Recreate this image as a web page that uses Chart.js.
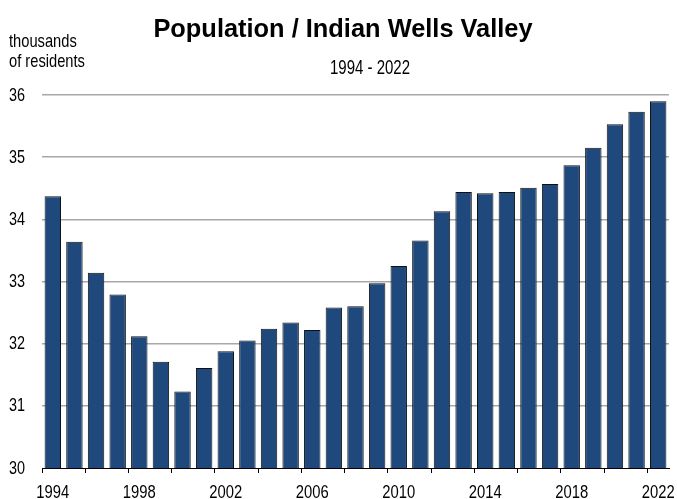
<!DOCTYPE html>
<html>
<head>
<meta charset="utf-8">
<script src="https://cdn.jsdelivr.net/npm/chart.js@4/dist/chart.umd.min.js"></script>
<style>
  html, body { margin: 0; padding: 0; background: #fff; }
  #wrap { width: 677px; height: 499px; position: relative; }
</style>
</head>
<body>
<div id="wrap"><canvas id="grafico"></canvas></div>
<script>
const years = ["1994","1995","1996","1997","1998","1999","2000","2001","2002","2003",
  "2004","2005","2006","2007","2008","2009","2010","2011","2012","2013",
  "2014","2015","2016","2017","2018","2019","2020","2021","2022"];

const population = [34.37, 33.64, 33.14, 32.79, 32.12, 31.71, 31.23, 31.61, 31.88, 32.05,
  32.24, 32.34, 32.22, 32.58, 32.60, 32.97, 33.25, 33.66, 34.13, 34.44,
  34.42, 34.44, 34.51, 34.57, 34.87, 35.15, 35.53, 35.73, 35.90];

const yTicks = [30, 31, 32, 33, 34, 35, 36];

const titulo = "Population / Indian Wells Valley";
const subtitulo = "1994 - 2022";
const unidad = ["thousands", "of residents"];

const fuente = "'Liberation Sans', Arial, sans-serif";

// texto estrecho (la fuente original es tipo Arial Narrow)
function texto(ctx, s, x, y, align, sx) {
  ctx.save();
  ctx.translate(x, y);
  ctx.scale(sx, 1);
  ctx.textAlign = align;
  ctx.fillText(s, 0, 0);
  ctx.restore();
}

const rotulos = {
  id: "rotulos",
  afterDraw(chart) {
    const ctx = chart.ctx;
    const xs = chart.scales.x;
    const ys = chart.scales.y;
    ctx.save();
    ctx.fillStyle = "#000";

    ctx.textBaseline = "alphabetic";
    ctx.font = "bold 26px " + fuente;
    texto(ctx, titulo, 343, 37, "center", 0.977);
    ctx.font = "19.5px " + fuente;
    texto(ctx, subtitulo, 370, 74, "center", 0.77);
    ctx.font = "17.7px " + fuente;
    texto(ctx, unidad[0], 9, 47, "left", 0.83);
    texto(ctx, unidad[1], 9, 67, "left", 0.83);

    // etiquetas eje y
    ctx.font = "18.5px " + fuente;
    ctx.textBaseline = "middle";
    yTicks.forEach(v => {
      texto(ctx, String(v), 9, ys.getPixelForValue(v) + 0.5, "left", 0.78);
    });

    // etiquetas eje x
    ctx.textBaseline = "alphabetic";
    years.forEach((y, i) => {
      if (i % 4 === 0) texto(ctx, y, xs.getPixelForValue(i), 498, "center", 0.8);
    });
    ctx.restore();
  }
};

new Chart(document.getElementById("grafico"), {
  type: "bar",
  data: {
    labels: years,
    datasets: [{
      label: "Population",
      data: population,
      backgroundColor: "#1f497d",
      borderColor: "#111",
      borderWidth: 1,
      borderSkipped: "bottom",
      categoryPercentage: 1,
      barPercentage: 0.76
    }]
  },
  options: {
    responsive: true,
    maintainAspectRatio: false,
    animation: false,
    layout: { padding: { left: 8, right: 8, top: 95, bottom: 0 } },
    plugins: {
      legend: { display: false },
      tooltip: { enabled: false }
    },
    scales: {
      x: {
        offset: true,
        grid: {
          offset: true,
          drawOnChartArea: false,
          drawTicks: true,
          tickLength: 5,
          color: c => (c.index !== undefined && c.index % 2 === 0) ? "#000" : "rgba(0,0,0,0)"
        },
        border: { display: true, color: "#000", width: 1 },
        ticks: { display: false, autoSkip: false },
        afterFit: s => { s.height = 31; }
      },
      y: {
        min: 30,
        max: 36,
        afterBuildTicks: s => { s.ticks = yTicks.map(v => ({ value: v })); },
        grid: {
          drawTicks: false,
          color: c => c.tick && c.tick.value === 30 ? "rgba(0,0,0,0)" : "#a8a8a8",
          lineWidth: 1.5
        },
        border: { display: false },
        ticks: { display: false },
        afterFit: s => { s.width = 34; }
      }
    }
  },
  plugins: [rotulos]
});
</script>
</body>
</html>
